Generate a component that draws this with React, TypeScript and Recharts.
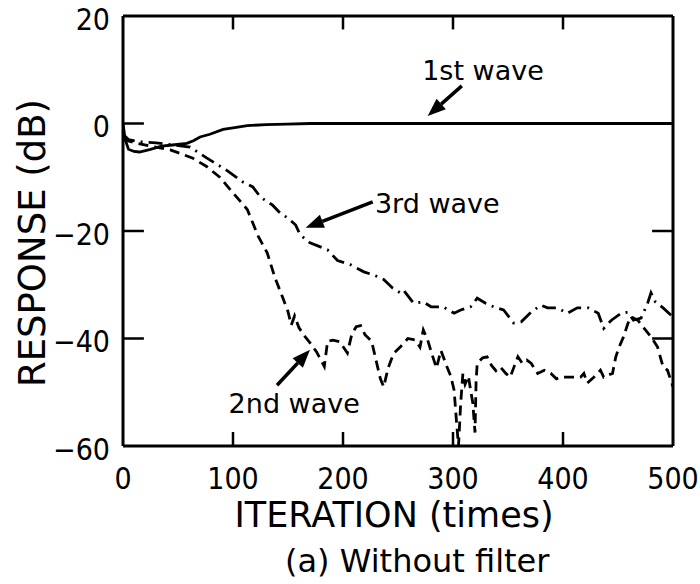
import React from "react";
import { LineChart, Line, XAxis, YAxis, ReferenceLine, ReferenceDot } from "recharts";

// values (iteration, dB)
const wave1Iter = [0, 2, 5, 10, 15, 25, 35, 45, 58, 64, 70, 79, 91, 100, 113, 130, 149, 170, 200, 300, 400, 500];
const wave1Db = [0, -3, -4.8, -5.2, -5.3, -4.8, -4.2, -4.0, -3.7, -3.2, -2.5, -2.0, -1.1, -0.8, -0.4, -0.2, -0.1, 0, 0, 0, 0, 0];

const wave2Iter = [
  0, 9, 25, 43, 63, 76, 88, 100, 113, 123, 131, 138, 145, 150, 153, 156, 160, 165, 170, 176, 183, 186, 191, 197,
  204, 208, 212, 216, 220, 226, 230, 234, 237, 241, 246, 252, 259, 266, 270, 273, 277, 281, 285, 289, 294, 298,
  301, 303, 305, 307, 309, 311, 314, 316, 318, 320, 321, 322, 327, 331, 335, 339, 343, 348, 352, 356, 359, 363,
  367, 371, 377, 383, 389, 394, 398, 404, 410, 416, 419, 422, 428, 434, 437, 441, 445, 448, 451, 455, 459, 462,
  468, 473, 480, 486, 491, 495, 500,
];
const wave2Db = [
  -3, -3.5, -4.2, -4.9, -6.4, -8, -10, -12.9, -16, -21, -24, -28.6, -32.3, -35, -37.5, -35.8, -38, -39.5, -40.8,
  -42.5, -45.2, -40.5, -40.3, -40.6, -42.7, -39.2, -37.8, -37.6, -39.3, -40.5, -44, -47.5, -49, -45.5, -42.8,
  -41.6, -40, -40.3, -41.6, -38.4, -40.3, -43, -45.5, -42.2, -45, -47, -49.6, -55, -60, -52, -46.5, -48.5, -47,
  -49.6, -52, -57.5, -48, -44.6, -43.6, -43.4, -45, -46, -45.3, -46.5, -47.2, -45, -43.4, -44.6, -44, -44.6,
  -46.5, -45.9, -46.5, -47.5, -47.2, -47.2, -47.2, -47.2, -46.5, -48.3, -47.2, -45.9, -47.2, -46.8, -46.5,
  -43.4, -41.6, -39.7, -37.2, -36, -36.6, -37.9, -39.7, -41.6, -45.3, -45.9, -49,
];

const wave3Iter = [
  0, 5, 15, 30, 45, 61, 76, 95, 109, 118, 125, 136, 143, 150, 157, 161, 170, 186, 195, 207, 219, 228, 237, 245,
  252, 255, 264, 273, 280, 291, 301, 307, 316, 322, 330, 337, 346, 355, 362, 371, 380, 386, 395, 404, 413, 423,
  432, 437, 444, 453, 459, 464, 471, 477, 480, 484, 491, 500,
];
const wave3Db = [
  -2, -3, -3.4, -3.6, -4, -4.4, -6.4, -8.8, -10.9, -11.8, -13.7, -15.2, -16.7, -17.6, -18.9, -20.7, -22.2, -23.5,
  -25.5, -26.3, -27.6, -28.2, -29, -30.6, -31.5, -31, -33.4, -33.2, -34.1, -34.1, -35.3, -34.7, -34.1, -32.5,
  -33.5, -34.1, -34.7, -37.1, -36.9, -35.1, -33.8, -34.3, -34.3, -35.3, -34.3, -34.3, -35.3, -38.1, -36.6,
  -35.3, -35.1, -36.6, -36.2, -33.4, -31.5, -33.2, -34.3, -36,
];

const xTicks = [0, 100, 200, 300, 400, 500];
const yTicks = [20, 0, -20, -40, -60];
const xInnerTicks = [100, 200, 300, 400];
const leftInnerTicks = [0, -20, -40];
const rightInnerTicks = [0, -20, -40];

// annotations: label text, label anchor (iteration, dB), arrow tail and head
const noteText = ["1st wave", "3rd wave", "2nd wave"];
const noteAt = [
  [272, 8.1],
  [229, -16.7],
  [96, -53.9],
];
const arrowTail = [
  [308, 7.0],
  [227, -14.6],
  [140, -48.7],
];
const arrowHead = [
  [277, 1.4],
  [166, -19.4],
  [170, -42.1],
];

const toPoints = (xs: number[], ys: number[]) => xs.map((x, i) => ({ x, y: ys[i] }));
const wave1 = toPoints(wave1Iter, wave1Db);
const wave2 = toPoints(wave2Iter, wave2Db);
const wave3 = toPoints(wave3Iter, wave3Db);

const FONT = "'DejaVu Sans', sans-serif";
const NUM_FONT = "'DejaVu Sans Condensed', 'DejaVu Sans', sans-serif";
const fmt = (v: number) => (v < 0 ? "\u2212" + Math.abs(v) : String(v));

const Arrow = (props: any) => {
  const { x1, y1, x2, y2 } = props;
  const ang = Math.atan2(y2 - y1, x2 - x1);
  const len = 18;
  const wing = 7;
  const bx = x2 - len * Math.cos(ang);
  const by = y2 - len * Math.sin(ang);
  const px = -Math.sin(ang) * wing;
  const py = Math.cos(ang) * wing;
  return (
    <g>
      <line x1={x1} y1={y1} x2={bx} y2={by} stroke="#000" strokeWidth={3.5} />
      <polygon points={`${x2},${y2} ${bx + px},${by + py} ${bx - px},${by - py}`} fill="#000" />
    </g>
  );
};

const NoteText = (text: string) => (props: any) => (
  <text x={props.cx} y={props.cy} fontSize={27} fontFamily={FONT} fill="#000">
    {text}
  </text>
);

// axis title and the figure caption below it
const XTitle = (props: any) => {
  const { x, y } = props.viewBox;
  return (
    <g fontFamily={FONT} fill="#000">
      <text x={x + 271} y={y + 81} fontSize={35} textAnchor="middle">
        ITERATION (times)
      </text>
      <text x={x + 162} y={y + 126} fontSize={32}>
        (a) Without filter
      </text>
    </g>
  );
};

const YTitle = () => (
  <text x={45} y={243} transform="rotate(-90 45 243)" fontSize={37} fontFamily={FONT} textAnchor="middle" fill="#000">
    RESPONSE (dB)
  </text>
);

export default function App() {
  const frame = { stroke: "#000", strokeWidth: 3 };
  return (
    <div style={{ position: "absolute", left: 0, top: 0, width: 700, height: 584, background: "#fff" }}>
      <LineChart width={700} height={584} margin={{ top: 16, right: 27, left: 0, bottom: 58 }}>
        <XAxis
          dataKey="x"
          type="number"
          domain={[0, 500]}
          ticks={xTicks}
          interval={0}
          allowDataOverflow
          axisLine={frame}
          tickLine={false}
          tickSize={8}
          tickMargin={14}
          height={80}
          tick={{ fontSize: 30, fontFamily: NUM_FONT, fill: "#000" }}
          label={<XTitle />}
        />
        <YAxis
          dataKey="y"
          type="number"
          domain={[-60, 20]}
          ticks={yTicks}
          interval={0}
          allowDataOverflow
          axisLine={frame}
          tickLine={false}
          tickSize={8}
          tickMargin={5}
          width={123}
          tickFormatter={fmt}
          tick={{ fontSize: 30, fontFamily: NUM_FONT, fill: "#000", dy: 3 }}
          label={<YTitle />}
        />
        <ReferenceLine y={20} {...frame} />
        <ReferenceLine x={500} {...frame} />
        {xInnerTicks.map((v) => (
          <ReferenceLine key={"b" + v} segment={[{ x: v, y: -60 }, { x: v, y: -57.4 }]} stroke="#000" strokeWidth={2.5} />
        ))}
        {xInnerTicks.map((v) => (
          <ReferenceLine key={"t" + v} segment={[{ x: v, y: 20 }, { x: v, y: 17.5 }]} stroke="#000" strokeWidth={2.5} />
        ))}
        {leftInnerTicks.map((v) => (
          <ReferenceLine key={"l" + v} segment={[{ x: 0, y: v }, { x: 19, y: v }]} stroke="#000" strokeWidth={2.5} />
        ))}
        {rightInnerTicks.map((v) => (
          <ReferenceLine key={"r" + v} segment={[{ x: 481, y: v }, { x: 500, y: v }]} stroke="#000" strokeWidth={2.5} />
        ))}
        <Line data={wave1} dataKey="y" stroke="#000" strokeWidth={2.8} dot={false} isAnimationActive={false} />
        <Line
          data={wave3}
          dataKey="y"
          stroke="#000"
          strokeWidth={2.8}
          strokeDasharray="14 6 2 6"
          dot={false}
          isAnimationActive={false}
        />
        <Line
          data={wave2}
          dataKey="y"
          stroke="#000"
          strokeWidth={2.8}
          strokeDasharray="10 6"
          dot={false}
          isAnimationActive={false}
        />
        {noteText.map((t, i) => (
          <ReferenceLine
            key={"a" + i}
            segment={[
              { x: arrowTail[i][0], y: arrowTail[i][1] },
              { x: arrowHead[i][0], y: arrowHead[i][1] },
            ]}
            shape={Arrow}
          />
        ))}
        {noteText.map((t, i) => (
          <ReferenceDot key={"n" + i} x={noteAt[i][0]} y={noteAt[i][1]} r={0} shape={NoteText(t)} />
        ))}
      </LineChart>
    </div>
  );
}
